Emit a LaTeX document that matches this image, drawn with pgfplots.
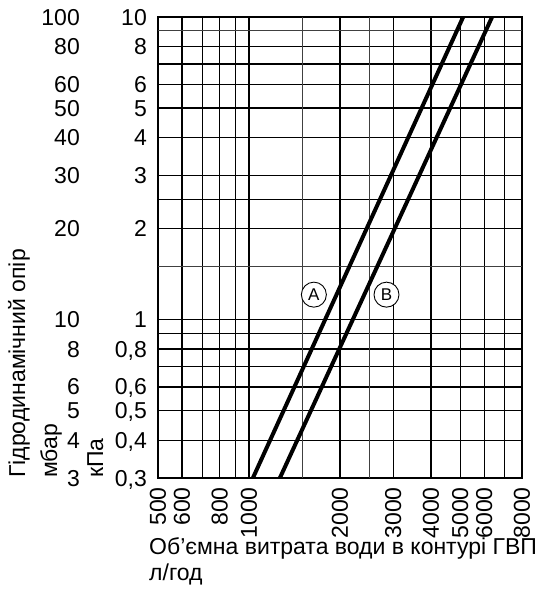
\documentclass[border=0pt]{standalone}
\usepackage{fontspec}
\setmainfont{Liberation Sans}
\usepackage{pgfplots}
\pgfplotsset{compat=1.18}

% flow rate (l/h) vs. pressure drop (kPa) for the two variants
\pgfplotstableread{
x y
1030 0.3
5110 10
}\curveA
\pgfplotstableread{
x y
1265 0.3
6370 10
}\curveB

\begin{document}
\begin{tikzpicture}[font=\fontsize{23}{27}\selectfont]
% main log-log grid, kPa scale
\begin{axis}[
  at={(158pt,121pt)}, anchor=south west,
  scale only axis, width=364pt, height=461pt,
  xmode=log, ymode=log,
  xmin=500, xmax=8000, ymin=0.3, ymax=10,
  xtick={500,600,700,800,900,1000,2000,3000,4000,5000,6000,7000,8000},
  xticklabels={500,600,,800,,1000,2000,3000,4000,5000,6000,,8000},
  ytick={0.3,0.4,0.5,0.6,0.7,0.8,0.9,1,2,2.5,3,4,5,6,7,8,10},
  yticklabels={{0,3},{0,4},{0,5},{0,6},,{0,8},,1,2,,3,4,5,6,,8,10},
  extra x ticks={1500,2500}, extra x tick labels={},
  extra y ticks={1.5,9}, extra y tick labels={},
  extra tick style={grid=major, major grid style={black!75, line width=1.2pt}},
  grid=major,
  major grid style={black, line width=1.3pt},
  major tick length=0pt,
  axis line style={black, line width=1.4pt},
  xticklabel style={rotate=90, anchor=east, inner sep=0pt},
  xticklabel shift=9pt,
  yticklabel style={anchor=east, inner sep=0pt, text depth=0pt},
  yticklabel shift=11pt,
  clip=true,
]
\addplot[black, line width=4pt] table {\curveA};
\addplot[black, line width=4pt] table {\curveB};
\node[circle, draw, fill=white, line width=0.9pt, minimum size=25pt, inner sep=0pt,
      font=\fontsize{17}{17}\selectfont] at (axis cs:1639,1.21) {A};
\node[circle, draw, fill=white, line width=0.9pt, minimum size=25pt, inner sep=0pt,
      font=\fontsize{17}{17}\selectfont] at (axis cs:2850,1.21) {B};
\end{axis}

% second scale, mbar
\begin{axis}[
  at={(158pt,121pt)}, anchor=south west,
  scale only axis, width=364pt, height=461pt,
  xmode=log, ymode=log,
  xmin=500, xmax=8000, ymin=3, ymax=100,
  xtick=\empty,
  ytick={3,4,5,6,8,10,20,30,40,50,60,80,100},
  yticklabels={3,4,5,6,8,10,20,30,40,50,60,80,100},
  major tick length=0pt,
  axis line style={draw=none},
  yticklabel style={anchor=east, inner sep=0pt, text depth=0pt},
  yticklabel shift=78pt,
]
\end{axis}

% axis titles
\node[rotate=90, anchor=base west, inner sep=0pt] at (25pt,121pt) {Гідродинамічний опір};
\node[rotate=90, anchor=base west, inner sep=0pt] at (57pt,121pt) {мбар};
\node[rotate=90, anchor=base west, inner sep=0pt] at (103pt,121pt) {кПа};
\node[anchor=base west, inner sep=0pt] at (149pt,44pt) {Об’ємна витрата води в контурі ГВП};
\node[anchor=base west, inner sep=0pt] at (149pt,18pt) {л/год};

\pgfresetboundingbox
\useasboundingbox (0pt,0pt) rectangle (543pt,599pt);
\end{tikzpicture}
\end{document}
